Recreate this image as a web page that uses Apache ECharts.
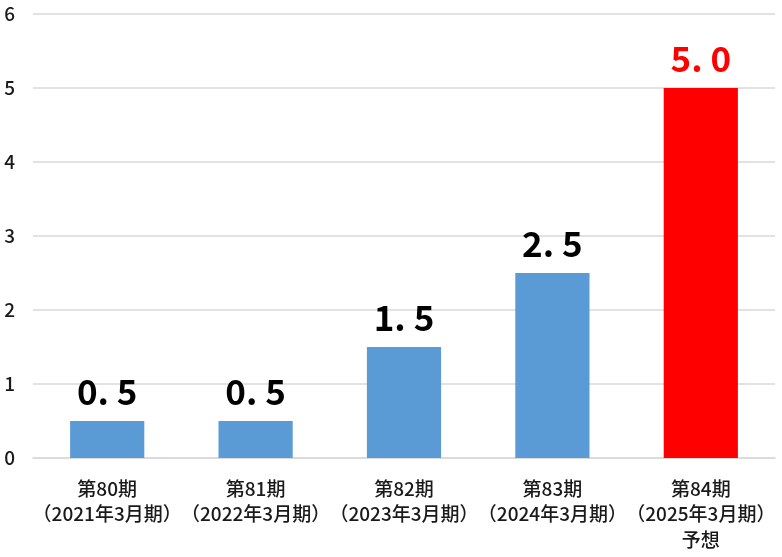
<!DOCTYPE html>
<html><head><meta charset="utf-8">
<script src="https://cdn.jsdelivr.net/npm/echarts@6/dist/echarts.min.js"></script>
<style>html,body{margin:0;padding:0;background:#fff}#c{width:782px;height:557px}</style>
</head><body><div id="c"></div>
<script>
const categories = ['第80期\n（2021年3月期）','第81期\n（2022年3月期）','第82期\n（2023年3月期）','第83期\n（2024年3月期）','第84期\n（2025年3月期）\n予想'];
const values = [0.5, 0.5, 1.5, 2.5, 5.0];
const highlightIndex = 4;
const yTicks = [0,1,2,3,4,5,6];

const FONT = "'Noto Sans CJK JP','Noto Sans',sans-serif";
const chart = echarts.init(document.getElementById('c'));
chart.setOption({
  animation:false,
  grid:{left:33,right:7,top:14,bottom:99,containLabel:false,outerBoundsMode:'none'},
  xAxis:{type:'category',data:categories,
    axisLine:{lineStyle:{color:'#d9d9d9',width:1.5}},axisTick:{show:false},
    axisLabel:{color:'#1a1a1a',fontSize:19,fontWeight:500,fontFamily:FONT,lineHeight:25.5,margin:18,interval:0}},
  yAxis:{type:'value',min:yTicks[0],max:yTicks[yTicks.length-1],interval:1,
    axisLine:{show:false},axisTick:{show:false},
    splitLine:{lineStyle:{color:'#d9d9d9',width:1.5}},
    axisLabel:{color:'#1a1a1a',fontSize:19,fontWeight:500,fontFamily:FONT,margin:18}},
  series:[{type:'bar',barWidth:'50%',
    data:values.map((v,i)=>({value:v,itemStyle:{color:i===highlightIndex?'#ff0000':'#5b9bd5'},
      label:{color:i===highlightIndex?'#ff0000':'#000'}})),
    label:{show:true,position:'top',distance:12,fontSize:35,fontWeight:'bold',fontFamily:FONT,
      formatter:p=>{const s=p.value.toFixed(1);return s.replace('.','. ');}}}]
});
</script></body></html>
